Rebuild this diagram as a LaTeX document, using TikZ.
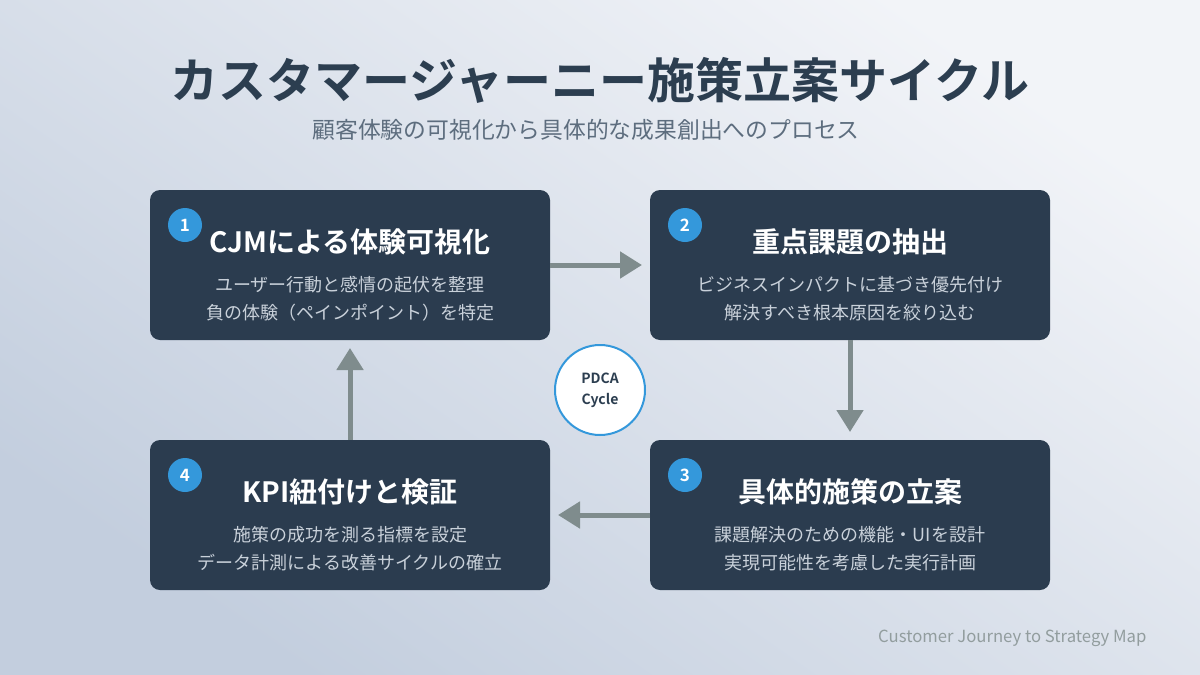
\documentclass[tikz,border=0pt]{standalone}
\usepackage{fontspec}
\setmainfont{Noto Sans CJK JP}[BoldFont={Noto Sans CJK JP Bold}]
\usetikzlibrary{arrows.meta}
\definecolor{boxc}{HTML}{2B3C4F}
\definecolor{numc}{HTML}{3498DB}
\definecolor{arrc}{HTML}{7F8C8D}
\definecolor{titc}{HTML}{2C3E50}
\definecolor{subc}{HTML}{5D6D7E}
\definecolor{descc}{HTML}{C9D1DA}
\definecolor{bgul}{HTML}{F2F4F8}
\definecolor{bglr}{HTML}{C3CEDE}
\begin{document}
\begin{tikzpicture}[x=1pt,y=-1pt,
 box/.style={fill=boxc,rounded corners=10pt,draw=none},
 num/.style={circle,fill=numc,minimum size=34pt,inner sep=0pt,text=white,font=\bfseries\fontsize{17}{17}\selectfont},
 ttl/.style={text=white,font=\bfseries\fontsize{28}{30}\selectfont},
 desc/.style={text=descc,align=center,font=\fontsize{18}{28}\selectfont},
 arr/.style={draw=arrc,line width=5pt,-{Triangle[length=22pt,width=26pt]}}]
\shade[left color=bgul,right color=bglr,shading angle=-35] (0,0) rectangle (1200,675);
\useasboundingbox (0,0) rectangle (1200,675);
\node[text=titc,font=\bfseries\fontsize{48}{52}\selectfont] (title) at (600,80) {カスタマージャーニー施策立案サイクル};
\node[text=subc,font=\fontsize{22.8}{24}\selectfont] (sub) at (586,130) {顧客体験の可視化から具体的な成果創出へのプロセス};
\path[box] (150,190) rectangle (550,340);
\path[box] (650,190) rectangle (1050,340);
\path[box] (650,440) rectangle (1050,590);
\path[box] (150,440) rectangle (550,590);
\node[num] (n1) at (185,225) {1};
\node[num] (n2) at (685,225) {2};
\node[num] (n3) at (685,475) {3};
\node[num] (n4) at (185,475) {4};
\node[ttl] (t1) at (350,242) {CJMによる体験可視化};
\node[ttl] (t2) at (850,242) {重点課題の抽出};
\node[ttl] (t3) at (850,492) {具体的施策の立案};
\node[ttl] (t4) at (350,492) {KPI紐付けと検証};
\node[desc] (d1) at (350,299) {ユーザー行動と感情の起伏を整理\\負の体験（ペインポイント）を特定};
\node[desc] (d2) at (850,299) {ビジネスインパクトに基づき優先付け\\解決すべき根本原因を絞り込む};
\node[desc] (d3) at (850,549) {課題解決のための機能・UIを設計\\実現可能性を考慮した実行計画};
\node[desc] (d4) at (350,549) {施策の成功を測る指標を設定\\データ計測による改善サイクルの確立};
\coordinate (a1s) at (550,265); \coordinate (a1e) at (642,265);
\coordinate (a2s) at (850,340); \coordinate (a2e) at (850,432);
\coordinate (a3s) at (650,515); \coordinate (a3e) at (558,515);
\coordinate (a4s) at (350,440); \coordinate (a4e) at (350,348);
\draw[arr] (a1s) -- (a1e);
\draw[arr] (a2s) -- (a2e);
\draw[arr] (a3s) -- (a3e);
\draw[arr] (a4s) -- (a4e);
\node[circle,fill=white,draw=numc,line width=2pt,minimum size=90pt,align=center,text=titc,font=\bfseries\fontsize{14}{21}\selectfont] (c) at (600,390) {PDCA\\Cycle};
\node[text=arrc!85,anchor=east,font=\fontsize{16.7}{18}\selectfont] (foot) at (1150,638) {Customer Journey to Strategy Map};
\end{tikzpicture}
\end{document}
